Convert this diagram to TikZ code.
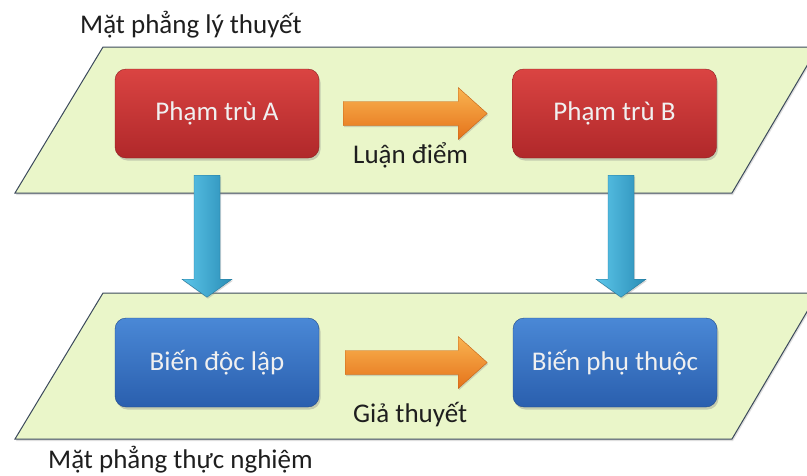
\documentclass[tikz,border=0pt]{standalone}
\usepackage{fontspec}
\setmainfont{Carlito}
\usetikzlibrary{calc,shadows}

\definecolor{planefill}{HTML}{EAF6C9}
\definecolor{planeline}{HTML}{3C4A5C}
\definecolor{redtop}{HTML}{DA4442}
\definecolor{redbot}{HTML}{B0282A}
\definecolor{bluetop}{HTML}{4A88D6}
\definecolor{bluebot}{HTML}{2A5FAE}
\definecolor{orangetop}{HTML}{F9B451}
\definecolor{orangebot}{HTML}{E5721A}
\definecolor{cyantop}{HTML}{5CC6EA}
\definecolor{cyanbot}{HTML}{2A8DB6}
\definecolor{labeltext}{HTML}{1E1E1E}

\tikzset{
  planeshape/.style={fill=planefill, draw=planeline, line width=1pt, line join=miter,
    drop shadow={opacity=0.25, shadow xshift=1pt, shadow yshift=-2pt}},
  conceptbox/.style={rounded corners=11pt, minimum width=204pt, minimum height=89pt,
    top color=redtop, bottom color=redbot, draw=redbot!80!black, line width=0.4pt,
    text=white!94!black, font=\fontsize{27}{30}\selectfont,
    drop shadow={opacity=0.35, shadow xshift=1.5pt, shadow yshift=-2.5pt}},
  varbox/.style={conceptbox, top color=bluetop, bottom color=bluebot, draw=bluebot!80!black},
  fatright/.style={top color=orangetop, bottom color=orangebot, draw=orangebot!85!black,
    line width=0.4pt, line join=miter,
    drop shadow={opacity=0.3, shadow xshift=1pt, shadow yshift=-1.5pt}},
  fatdown/.style={left color=cyantop, right color=cyanbot, draw=cyanbot!85!black,
    line width=0.4pt, line join=miter,
    drop shadow={opacity=0.3, shadow xshift=1pt, shadow yshift=-1.5pt}},
  labelstyle/.style={text=labeltext, font=\fontsize{27}{30}\selectfont, inner sep=0pt},
}

\begin{document}
\begin{tikzpicture}[x=1pt, y=-1pt]
  \clip (0,0) rectangle (807,475);
  \fill[white] (0,0) rectangle (807,475);

  % theory plane and experiment plane
  \path[planeshape] (15,193) -- (732,193) -- (818,47) -- (103,47) -- cycle;
  \path[planeshape] (15,439) -- (732,439) -- (818,293) -- (103,293) -- cycle;

  % boxes
  \node[conceptbox] (A) at (217,113.5) {Phạm trù A};
  \node[conceptbox] (B) at (614.5,113.5) {Phạm trù B};
  \node[varbox]     (C) at (217,362.5) {Biến độc lập};
  \node[varbox]     (D) at (615,362.5) {Biến phụ thuộc};

  % horizontal arrows
  \path[fatright] ([shift={(24,-12)}]A.east) -- ++(115,0) -- ++(0,-14) -- ++(29,26)
    -- ++(-29,26) -- ++(0,-14) -- ++(-115,0) -- cycle;
  \path[fatright] ([shift={(26,-12)}]C.east) -- ++(113,0) -- ++(0,-14) -- ++(29,26)
    -- ++(-29,26) -- ++(0,-14) -- ++(-113,0) -- cycle;

  % vertical arrows
  \path[fatdown] ([shift={(-23,17)}]A.south) -- ++(0,104) -- ++(-12,0) -- ++(25,18)
    -- ++(25,-18) -- ++(-12,0) -- ++(0,-104) -- cycle;
  \path[fatdown] ([shift={(-6.5,17)}]B.south) -- ++(0,104) -- ++(-12,0) -- ++(25,18)
    -- ++(25,-18) -- ++(-12,0) -- ++(0,-104) -- cycle;

  % labels
  \node[labelstyle, anchor=base west] (theory) at (80,33) {Mặt phẳng lý thuyết};
  \node[labelstyle, anchor=base west] (experiment) at (48,468) {Mặt phẳng thực nghiệm};
  \node[labelstyle, anchor=base west] (thesis) at (353,163) {Luận điểm};
  \node[labelstyle, anchor=base west] (hypothesis) at (353,422) {Giả thuyết};
\end{tikzpicture}
\end{document}
